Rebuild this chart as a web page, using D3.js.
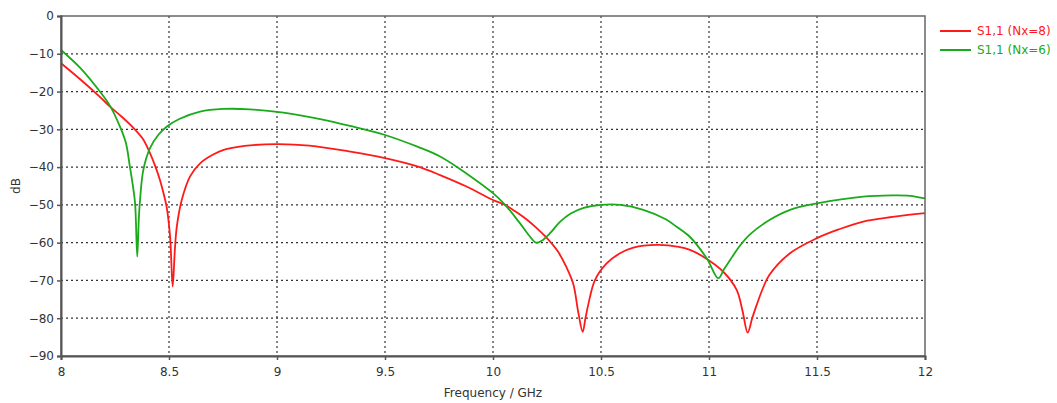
<!DOCTYPE html>
<html>
<head>
<meta charset="utf-8">
<script src="https://cdn.jsdelivr.net/npm/d3@7"></script>
<style>
  body { margin: 0; background: #fff; }
  text { font-family: "DejaVu Sans", Verdana, sans-serif; }
</style>
</head>
<body>
<svg id="chart"></svg>
<script>
// frequency (GHz) / S11 (dB)
var freqNx8 = [8.00, 8.09, 8.18, 8.227, 8.28, 8.335, 8.38, 8.412, 8.438, 8.458, 8.475, 8.489, 8.505, 8.517, 8.527, 8.536, 8.559, 8.597, 8.644, 8.70, 8.75, 8.85, 9.00, 9.15, 9.34, 9.50, 9.65, 9.755, 9.88, 10.00, 10.056, 10.10, 10.15, 10.20, 10.25, 10.30, 10.34, 10.372, 10.395, 10.415, 10.428, 10.441, 10.472, 10.526, 10.588, 10.65, 10.758, 10.86, 10.912, 10.97, 11.066, 11.128, 11.155, 11.179, 11.20, 11.22, 11.25, 11.28, 11.375, 11.50, 11.60, 11.714, 11.85, 12.00];
var dbNx8 = [-12.5, -16.8, -21.4, -24, -26.6, -29.6, -32.6, -36.3, -40, -43.4, -47, -50.5, -58.4, -71.6, -62, -55.8, -48.7, -42.5, -39, -36.8, -35.5, -34.4, -33.9, -34.3, -35.9, -37.6, -39.8, -42.1, -45.2, -48.7, -50.0, -51.6, -53.6, -56.0, -58.8, -62.3, -66.5, -71, -78.5, -83.6, -80, -76.4, -69.9, -65.5, -62.8, -61.3, -60.6, -61.1, -61.9, -63.6, -67.7, -72.5, -78, -83.8, -80, -76.6, -72, -68.5, -62.8, -58.8, -56.5, -54.4, -53.2, -52.2];

var freqNx6 = [8.00, 8.09, 8.18, 8.227, 8.273, 8.30, 8.319, 8.333, 8.343, 8.353, 8.360, 8.366, 8.381, 8.412, 8.45, 8.489, 8.55, 8.644, 8.75, 8.875, 9.03, 9.20, 9.338, 9.50, 9.65, 9.755, 9.88, 10.00, 10.056, 10.12, 10.17, 10.199, 10.225, 10.264, 10.31, 10.36, 10.42, 10.50, 10.59, 10.696, 10.80, 10.85, 10.912, 10.99, 11.043, 11.07, 11.11, 11.143, 11.19, 11.28, 11.375, 11.50, 11.714, 11.85, 11.93, 12.00];
var dbNx6 = [-9.0, -13.8, -20, -23.8, -29.3, -33.5, -39.9, -45, -49.6, -63.7, -54, -48.7, -40.8, -35, -31.5, -29.3, -27.2, -25.3, -24.6, -24.7, -25.6, -27.3, -29.1, -31.5, -34.6, -37.2, -41.8, -46.9, -50, -54.5, -58.3, -60, -59.5, -57.5, -54.5, -52.3, -50.8, -50.0, -50.0, -51.3, -53.8, -55.8, -58.5, -64.2, -69.4, -67, -63.5, -60.8, -57.8, -54, -51.3, -49.6, -47.8, -47.5, -47.6, -48.3];

var xTicks = [8, 8.5, 9, 9.5, 10, 10.5, 11, 11.5, 12];
var yTicks = [0, -10, -20, -30, -40, -50, -60, -70, -80, -90];
var seriesNames = ["S1,1 (Nx=8)", "S1,1 (Nx=6)"];
var seriesColors = ["#ff1a1a", "#1aaa1a"];

var width = 1057, height = 403;
var margin = { left: 61, top: 16, right: 132, bottom: 47 };

var svg = d3.select("#chart").attr("width", width).attr("height", height);

var x = d3.scaleLinear().domain([8, 12]).range([margin.left, width - margin.right]);
var y = d3.scaleLinear().domain([-90, 0]).range([height - margin.bottom, margin.top]);

// grid
svg.append("g").selectAll("line")
  .data(xTicks.slice(1, -1))
  .enter().append("line")
  .attr("x1", function (d) { return x(d); })
  .attr("x2", function (d) { return x(d); })
  .attr("y1", y(0)).attr("y2", y(-90))
  .attr("stroke", "#333").attr("stroke-width", 1.2)
  .attr("stroke-dasharray", "2,3");
svg.append("g").selectAll("line")
  .data(yTicks.slice(1, -1))
  .enter().append("line")
  .attr("y1", function (d) { return y(d); })
  .attr("y2", function (d) { return y(d); })
  .attr("x1", x(8)).attr("x2", x(12))
  .attr("stroke", "#333").attr("stroke-width", 1.2)
  .attr("stroke-dasharray", "2,3");

// curves
var line = d3.line()
  .x(function (d) { return x(d[0]); })
  .y(function (d) { return y(d[1]); })
  .curve(d3.curveCatmullRom.alpha(0.5));

var series = [d3.zip(freqNx8, dbNx8), d3.zip(freqNx6, dbNx6)];
svg.append("g").selectAll("path")
  .data(series)
  .enter().append("path")
  .attr("d", line)
  .attr("fill", "none")
  .attr("stroke", function (d, i) { return seriesColors[i]; })
  .attr("stroke-width", 1.8);

// frame
svg.append("rect")
  .attr("x", x(8)).attr("y", y(0))
  .attr("width", x(12) - x(8)).attr("height", y(-90) - y(0))
  .attr("fill", "none").attr("stroke", "#666").attr("stroke-width", 1.5);

// axes
var xAxis = d3.axisBottom(x).tickValues(xTicks).tickSize(4).tickPadding(7)
  .tickFormat(d3.format("~g"));
var gx = svg.append("g").attr("transform", "translate(0," + y(-90) + ")").call(xAxis);
var yAxis = d3.axisLeft(y).tickValues(yTicks).tickSize(4).tickPadding(3);
var gy = svg.append("g").attr("transform", "translate(" + x(8) + ",0)").call(yAxis);

[gx, gy].forEach(function (g) {
  g.select(".domain").attr("stroke", "#555").attr("stroke-width", 2);
  g.selectAll(".tick line").attr("stroke", "#555").attr("stroke-width", 1.5);
  g.selectAll(".tick text").attr("fill", "#333").style("font-size", "12px")
    .style("font-family", "'DejaVu Sans', Verdana, sans-serif");
});

svg.append("text")
  .attr("x", x(10)).attr("y", 397)
  .attr("text-anchor", "middle")
  .attr("fill", "#333").style("font-size", "12px")
  .text("Frequency / GHz");

svg.append("text")
  .attr("transform", "translate(20," + y(-45) + ") rotate(-90)")
  .attr("text-anchor", "middle")
  .attr("fill", "#333").style("font-size", "12px")
  .text("dB");

// legend
var legend = svg.append("g").selectAll("g")
  .data(seriesNames)
  .enter().append("g")
  .attr("transform", function (d, i) { return "translate(940," + (31 + i * 19) + ")"; });
legend.append("line")
  .attr("x1", 0).attr("x2", 31)
  .attr("stroke", function (d, i) { return seriesColors[i]; })
  .attr("stroke-width", 2);
legend.append("text")
  .attr("x", 37).attr("dy", "0.35em")
  .attr("fill", function (d, i) { return seriesColors[i]; })
  .style("font-size", "12px")
  .text(function (d) { return d; });
</script>
</body>
</html>
